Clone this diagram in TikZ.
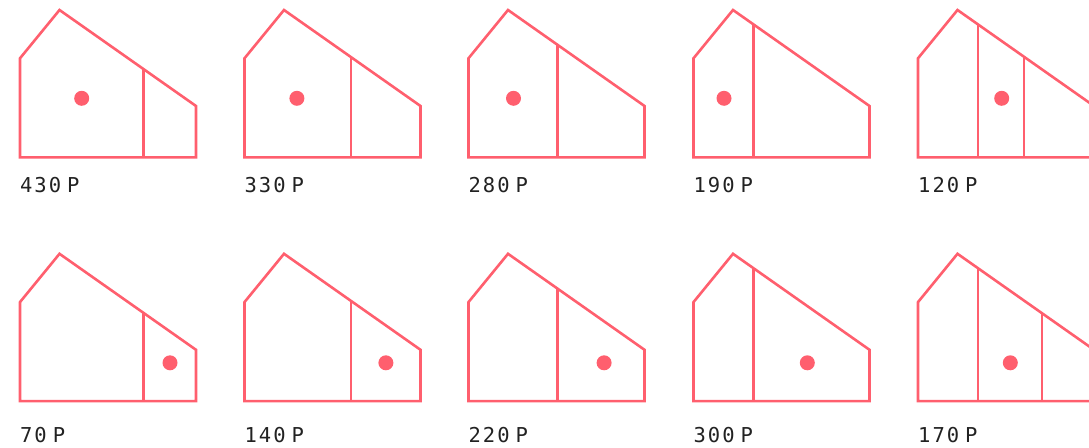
\documentclass[tikz,border=0pt]{standalone}
\usepackage{fontspec}
\newfontfamily\labelfont{DejaVu Sans Mono}
\definecolor{hred}{HTML}{FF5F6E}
\definecolor{ink}{HTML}{222222}
\tikzset{
  houseline/.style={draw=hred,line width=2.6pt,line join=miter},
  pricelabel/.style={anchor=base west,inner sep=0pt,text=ink,font=\labelfont\fontsize{20.5}{20.5}\selectfont},
}
\newcommand\dg[1]{\makebox[14.3pt][l]{#1}}
% #1 x0, #2 y shift, #3 divider list, #4 dot x, #5 dot y
\newcommand\drawhouse[5]{%
  \begin{scope}[shift={(#1,#2)}]
    \draw[houseline] (0,157.3) -- (0,58.3) -- (39.5,10) -- (176,106) -- (176,157.3) -- cycle;
    \foreach \d in {#3} {
      \pgfmathsetmacro\yt{10+0.7033*(\d-39.5)}
      \draw[houseline] (\d,\yt) -- (\d,157.3);
    }
    \fill[hred] (#4,#5) circle (7.5pt);
  \end{scope}}
\begin{document}
\begin{tikzpicture}[x=1pt,y=-1pt]
  \useasboundingbox (0,0) rectangle (1089,447);
  \clip (0,0) rectangle (1089,447);
  % row 1
  \drawhouse{20}{0}{123.7}{61.7}{98.3}
  \drawhouse{244.5}{0}{106.3}{52.4}{98.3}
  \drawhouse{468.5}{0}{88.8}{45}{98.3}
  \drawhouse{693.5}{0}{60}{30.5}{98.3}
  \drawhouse{918}{0}{60,106}{83.7}{98.3}
  % row 2
  \drawhouse{20}{243.8}{123.7}{150}{119}
  \drawhouse{244.5}{243.8}{106.3}{141.4}{119}
  \drawhouse{468.5}{243.8}{88.8}{135.6}{119}
  \drawhouse{693.5}{243.8}{60}{113.8}{119}
  \drawhouse{918}{243.8}{60,124}{92.3}{119}
  % labels row 1
  \node[pricelabel] (p430) at (20,192.7) {\dg{4}\dg{3}\dg{0}\hspace{4pt}P};
  \node[pricelabel] (p330) at (244.5,192.7) {\dg{3}\dg{3}\dg{0}\hspace{4pt}P};
  \node[pricelabel] (p280) at (468.5,192.7) {\dg{2}\dg{8}\dg{0}\hspace{4pt}P};
  \node[pricelabel] (p190) at (693.5,192.7) {\dg{1}\dg{9}\dg{0}\hspace{4pt}P};
  \node[pricelabel] (p120) at (918,192.7) {\dg{1}\dg{2}\dg{0}\hspace{4pt}P};
  % labels row 2
  \node[pricelabel] (p70) at (20,442) {\dg{7}\dg{0}\hspace{4pt}P};
  \node[pricelabel] (p140) at (244.5,442) {\dg{1}\dg{4}\dg{0}\hspace{4pt}P};
  \node[pricelabel] (p220) at (468.5,442) {\dg{2}\dg{2}\dg{0}\hspace{4pt}P};
  \node[pricelabel] (p300) at (693.5,442) {\dg{3}\dg{0}\dg{0}\hspace{4pt}P};
  \node[pricelabel] (p170) at (918,442) {\dg{1}\dg{7}\dg{0}\hspace{4pt}P};
\end{tikzpicture}
\end{document}
